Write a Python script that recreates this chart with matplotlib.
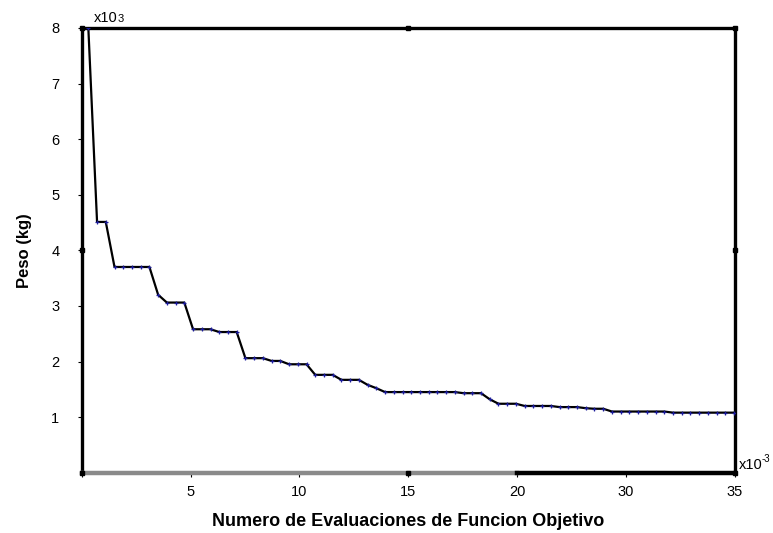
import numpy as np
import matplotlib
matplotlib.use('Agg')
import matplotlib.pyplot as plt

# peso (kg, x10^3) por evaluacion registrada
peso = [8.00, 4.51, 4.51, 3.70, 3.70, 3.70, 3.70, 3.70, 3.20, 3.06,
        3.06, 3.06, 2.58, 2.58, 2.58, 2.53, 2.53, 2.53, 2.06, 2.06,
        2.06, 2.01, 2.01, 1.95, 1.95, 1.95, 1.76, 1.76, 1.76, 1.67,
        1.67, 1.67, 1.58, 1.52, 1.45, 1.45, 1.45, 1.45, 1.45, 1.45,
        1.45, 1.45, 1.45, 1.43, 1.43, 1.43, 1.32, 1.24, 1.24, 1.24,
        1.20, 1.20, 1.20, 1.20, 1.18, 1.18, 1.18, 1.16, 1.15, 1.15,
        1.10, 1.10, 1.10, 1.10, 1.10, 1.10, 1.10, 1.08, 1.08, 1.08,
        1.08, 1.08, 1.08, 1.08, 1.08]
x_labels = ['', '5', '10', '15', '20', '30', '35']
y_ticks = [1, 2, 3, 4, 5, 6, 7, 8]

plt.rcParams['font.family'] = ['Liberation Sans', 'DejaVu Sans']

W, H = 773, 533
fig = plt.figure(figsize=(W / 100, H / 100), dpi=100)
ax = fig.add_axes([81.7 / W, 60.3 / H, (735 - 81.7) / W, (472.7 - 27.9) / H])

x = np.arange(len(peso))
ax.plot(x, peso, color='black', lw=1.6, marker='+', ms=3.5,
        mec='#1c1c9a', mew=0.9, zorder=3)

ax.set_ylim(0, 8)
ax.set_xlim(-0.76, 74.1)
xt = np.linspace(-0.76, 74.1, len(x_labels))
ax.set_xticks(xt)
ax.set_xticklabels(x_labels)
ax.set_yticks(y_ticks)

ax.tick_params(axis='both', direction='out', length=3, width=0.8,
               labelsize=10.5, colors='black')
ax.tick_params(axis='y', pad=13)
ax.tick_params(axis='x', pad=6)

for side in ['left', 'top', 'right']:
    ax.spines[side].set_linewidth(2.4)
ax.spines['bottom'].set_visible(False)
# eje inferior: tramo gris y tramo negro
ax.axhline(0, xmin=0, xmax=4 / 6, color='#8a8a8a', lw=3.2, clip_on=False, zorder=4)
ax.axhline(0, xmin=4 / 6, xmax=1, color='black', lw=3.2, clip_on=False, zorder=4)

# marcas de seleccion del marco
hx = [0, 0.5, 1, 0, 1, 0, 0.5, 1]
hy = [1, 1, 1, 0.5, 0.5, 0, 0, 0]
ax.plot(hx, hy, 's', color='black', ms=3.5, transform=ax.transAxes,
        clip_on=False, zorder=5)

ax.set_ylabel('Peso (kg)', fontsize=12, fontweight='bold', labelpad=14)
ax.set_xlabel('Numero de Evaluaciones de Funcion Objetivo', fontsize=13,
              fontweight='bold', labelpad=10)

fig.text(94 / W, 1 - 18.5 / H, 'x10', fontsize=10.5, va='center', ha='left')
fig.text(117.5 / W, 1 - 19.5 / H, '3', fontsize=8, va='center', ha='left')
fig.text(739 / W, 1 - 465 / H, 'x10', fontsize=10.5, va='center', ha='left')
fig.text(762 / W, 1 - 459 / H, '-3', fontsize=7, va='center', ha='left')

fig.savefig('out.png', dpi=100)
